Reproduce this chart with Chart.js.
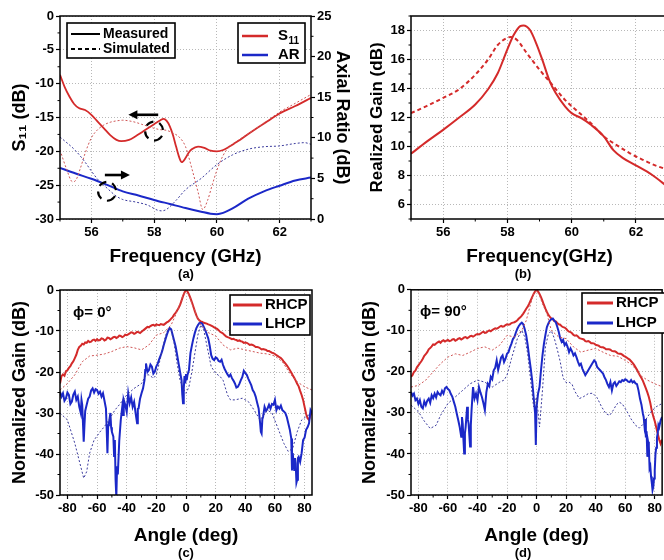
<!DOCTYPE html>
<html>
<head>
<meta charset="utf-8">
<script src="https://cdn.jsdelivr.net/npm/chart.js@4.4.1/dist/chart.umd.min.js"></script>
<style>
  body { margin: 0; width: 664px; height: 560px; overflow: hidden; background: #fff; position: relative; }
  canvas { position: absolute; }
  .etiqueta { position: absolute; font: bold 13px 'Liberation Sans', Arial, sans-serif; transform: translate(-50%, -50%); color: #000; }
</style>
</head>
<body>
<canvas id="grafico-a" width="355" height="280" style="left:0;top:0"></canvas>
<canvas id="grafico-b" width="340" height="280" style="left:330px;top:0"></canvas>
<canvas id="grafico-c" width="340" height="280" style="left:0;top:280px"></canvas>
<canvas id="grafico-d" width="334" height="280" style="left:330px;top:280px"></canvas>
<div class="etiqueta" style="left:186px;top:273px">(a)</div>
<div class="etiqueta" style="left:523px;top:273px">(b)</div>
<div class="etiqueta" style="left:186px;top:552px">(c)</div>
<div class="etiqueta" style="left:523px;top:552px">(d)</div>
<script>
/**
 * Figura de 4 paneles: S11 / AR, ganancia realizada y diagramas de radiación
 */

// Panel (a): S11 (eje izquierdo) y relación axial (eje derecho)
const aFrecTicks = [56, 58, 60, 62];
const aS11Ticks = [0, -5, -10, -15, -20, -25, -30];
const aArTicks = [0, 5, 10, 15, 20, 25];
const aS11Medido = [[55,-8.7],[55.15,-10.5],[55.3,-11.9],[55.45,-13.0],[55.6,-13.6],[55.8,-13.9],[56,-14.6],[56.2,-15.6],[56.4,-16.6],[56.6,-17.6],[56.8,-18.3],[56.95,-18.5],[57.2,-18.3],[57.4,-17.8],[57.6,-17.2],[57.8,-16.6],[58,-16.0],[58.2,-15.4],[58.3,-15.2],[58.4,-15.5],[58.5,-16.3],[58.6,-17.6],[58.7,-19.3],[58.8,-20.9],[58.88,-21.6],[59,-21.0],[59.1,-20.2],[59.2,-19.7],[59.4,-19.3],[59.6,-19.5],[59.8,-19.9],[60,-20.0],[60.2,-19.8],[60.4,-19.3],[60.6,-18.7],[60.8,-18.1],[61.2,-16.8],[61.6,-15.6],[62,-14.4],[62.5,-13.3],[63,-12.1]];
const aS11Simulado = [[55,-19.8],[55.2,-22.5],[55.4,-24.5],[55.5,-24.3],[55.65,-22.5],[55.8,-20.3],[56,-18.0],[56.2,-16.8],[56.4,-16.1],[56.6,-15.7],[56.8,-15.5],[57,-15.4],[57.2,-15.5],[57.4,-15.7],[57.6,-16.0],[57.8,-16.3],[58,-16.6],[58.2,-16.8],[58.4,-16.9],[58.6,-17.3],[58.8,-17.9],[59,-19.3],[59.2,-22.5],[59.4,-26.0],[59.55,-28.6],[59.7,-27.3],[59.85,-25.0],[60,-22.8],[60.2,-20.6],[60.4,-19.3],[60.6,-18.6],[60.8,-18.0],[61.2,-16.8],[61.6,-15.5],[62,-14.2],[62.5,-12.9],[63,-11.6]];
const aArMedido = [[55,6.3],[55.5,5.6],[56,4.95],[56.5,4.2],[57,3.4],[57.5,2.9],[58,2.35],[58.5,1.85],[59,1.35],[59.5,0.9],[59.8,0.65],[60,0.6],[60.2,0.75],[60.5,1.3],[61,2.5],[61.5,3.4],[62,4.1],[62.5,4.75],[63,5.1]];
const aArSimulado = [[55,10.1],[55.5,8.4],[55.8,7.0],[56,5.9],[56.2,4.9],[56.5,3.8],[56.8,2.8],[57,2.4],[57.4,2.1],[57.8,1.7],[58.1,1.1],[58.25,1.0],[58.4,1.2],[58.7,2.3],[59,3.6],[59.5,5.0],[60,6.7],[60.5,7.9],[61,8.6],[61.5,8.9],[62,9.0],[62.5,9.3],[62.8,9.4],[63,9.2]];
// Flechas y elipses que señalan el eje de cada curva (coordenadas de datos)
const aFlechas = [{ desde: [58.13, -14.6], hasta: [57.18, -14.6] }, { desde: [56.43, -23.5], hasta: [57.23, -23.5] }];
const aElipses = [[58.0, -17.0], [56.5, -25.9]];

// Panel (b): ganancia realizada
const bFrecTicks = [56, 58, 60, 62];
const bGananciaTicks = [6, 8, 10, 12, 14, 16, 18];
const bGananciaMedida = [[55,9.5],[55.5,10.35],[56,11.15],[56.5,12.0],[57,12.9],[57.4,13.95],[57.7,15.05],[58,16.7],[58.2,17.7],[58.4,18.3],[58.5,18.35],[58.7,18.05],[58.9,17.1],[59.1,15.9],[59.3,14.6],[59.5,13.7],[59.8,12.75],[60,12.3],[60.3,11.95],[60.6,11.5],[61,10.7],[61.3,9.75],[61.6,9.2],[62,8.7],[62.5,8.05],[63,7.2]];
const bGananciaSimulada = [[55,12.3],[55.5,12.8],[56,13.35],[56.5,13.95],[57,14.95],[57.4,16.0],[57.7,17.0],[58,17.5],[58.1,17.55],[58.3,17.35],[58.6,16.45],[59,15.3],[59.4,14.25],[59.8,13.2],[60.2,12.4],[60.6,11.6],[61,10.7],[61.4,10.1],[61.8,9.55],[62.2,9.1],[62.6,8.7],[63,8.4]];

// Paneles (c) y (d): ganancia normalizada frente al ángulo
const anguloTicks = [-80, -60, -40, -20, 0, 20, 40, 60, 80];
const normTicks = [0, -10, -20, -30, -40, -50];
const cRhcpMedido = [[-85,-22.8],[-84,-21.0],[-83,-20.6],[-82,-20.9],[-81,-19.8],[-80,-19.6],[-79,-19.0],[-78,-18.6],[-77,-17.9],[-76,-17.4],[-75,-16.6],[-74,-15.8],[-73,-14.6],[-72,-13.9],[-71,-13.6],[-70,-13.1],[-69,-13.3],[-68,-12.8],[-67,-12.9],[-66,-12.4],[-65,-12.7],[-64,-12.6],[-63,-12.2],[-62,-12.1],[-61,-12.4],[-60,-12.0],[-59,-12.3],[-58,-12.2],[-57,-11.8],[-56,-11.9],[-55,-12.3],[-54,-12.1],[-53,-11.6],[-52,-11.7],[-51,-12.0],[-50,-11.8],[-49,-11.5],[-48,-11.4],[-47,-11.7],[-46,-11.5],[-45,-11.1],[-44,-11.2],[-43,-11.5],[-42,-11.3],[-41,-10.9],[-40,-11.0],[-39,-10.8],[-38,-10.6],[-37,-10.3],[-36,-10.4],[-35,-10.7],[-34,-10.5],[-33,-10.2],[-32,-10.3],[-31,-10.5],[-30,-10.2],[-29,-9.9],[-28,-9.6],[-27,-9.3],[-26,-9.0],[-25,-9.1],[-24,-8.8],[-23,-8.6],[-22,-8.5],[-21,-8.7],[-20,-8.4],[-19,-8.5],[-18,-8.6],[-17,-8.3],[-16,-8.4],[-15,-8.5],[-14,-8.2],[-13,-7.9],[-12,-7.7],[-11,-7.4],[-10,-7.0],[-9,-6.6],[-8,-6.0],[-7,-5.6],[-6,-5.0],[-5,-4.4],[-4,-3.6],[-3,-2.6],[-2,-1.5],[-1,-0.6],[0,0],[1,-0.4],[2,-1.1],[3,-2.0],[4,-3.0],[5,-4.1],[6,-5.2],[7,-6.2],[8,-7.0],[9,-7.4],[10,-7.7],[11,-7.8],[12,-8.0],[13,-8.1],[14,-8.2],[15,-8.4],[16,-8.5],[17,-8.7],[18,-8.9],[19,-9.1],[20,-9.3],[21,-9.5],[22,-9.8],[23,-10.2],[24,-10.4],[25,-10.6],[26,-11.0],[27,-11.3],[28,-11.5],[29,-11.6],[30,-11.8],[31,-12.0],[32,-11.9],[33,-12.1],[34,-12.2],[35,-12.4],[36,-12.3],[37,-12.5],[38,-12.6],[39,-12.9],[40,-12.8],[41,-12.9],[42,-13.1],[43,-13.4],[44,-13.3],[45,-13.4],[46,-13.6],[47,-13.9],[48,-13.9],[49,-14.0],[50,-14.2],[51,-14.5],[52,-14.4],[53,-14.5],[54,-14.6],[55,-14.9],[56,-14.9],[57,-15.1],[58,-15.3],[59,-15.4],[60,-15.6],[61,-15.9],[62,-16.1],[63,-16.4],[64,-16.6],[65,-17.0],[66,-17.5],[67,-17.9],[68,-18.4],[69,-18.9],[70,-19.5],[71,-20.1],[72,-20.8],[73,-21.4],[74,-22.1],[75,-22.9],[76,-23.5],[77,-24.6],[78,-25.6],[79,-26.8],[80,-28.5],[81,-30.2],[82,-31.3],[83,-31.7],[84,-30.5],[85,-29.7]];
const cRhcpSimulado = [[-85,-24.4],[-80,-22.8],[-75,-20.7],[-70,-17.5],[-65,-16.1],[-60,-15.9],[-55,-15.6],[-50,-15.0],[-45,-14.2],[-40,-13.8],[-35,-14.1],[-30,-14.6],[-25,-13.4],[-20,-11.0],[-15,-10.4],[-10,-8.5],[-7,-6.1],[-4,-3.3],[-2,-1.2],[0,-0.2],[2,-1.2],[4,-3.3],[7,-6.1],[10,-8.5],[15,-10.4],[20,-11.2],[25,-13.4],[30,-14.6],[35,-14.2],[40,-14.6],[45,-15.0],[50,-15.4],[55,-15.6],[60,-16.1],[65,-17.5],[70,-20.3],[75,-22.4],[80,-23.6],[85,-24.4]];
const cLhcpMedido = [[-85,-24.8],[-84,-26.0],[-83,-25.2],[-82,-27.0],[-81,-26.4],[-80,-25.0],[-79,-25.6],[-78,-27.8],[-77,-27.2],[-76,-25.5],[-75,-24.8],[-74,-26.8],[-73,-26.0],[-72,-28.5],[-71,-30.0],[-70.5,-26.8],[-70,-28.0],[-69,-37.0],[-68.5,-33.0],[-68,-29.5],[-67,-28.0],[-66,-26.5],[-65,-26.0],[-64,-24.5],[-63,-24.0],[-62,-25.0],[-61,-24.2],[-60,-24.4],[-59,-25.3],[-58,-24.8],[-57,-26.0],[-56,-25.2],[-55,-27.0],[-54,-28.9],[-53.5,-34],[-53,-39.8],[-52.5,-33],[-52,-32.5],[-51,-30.0],[-50.5,-33.5],[-50,-34.6],[-49,-35.8],[-48.5,-40.5],[-48,-36.6],[-47.5,-46.3],[-47,-50.5],[-46.5,-43.0],[-46,-45.0],[-45,-36.6],[-44,-31.7],[-43,-28.5],[-42.5,-30.5],[-42,-26.8],[-41,-28.0],[-40,-29.7],[-39,-25.2],[-38,-27.6],[-37,-26.2],[-36,-28.5],[-35,-27.3],[-34,-30.0],[-33,-32.5],[-32.5,-29.0],[-32,-28.9],[-31,-26.5],[-30,-25.2],[-29,-24.0],[-28,-22.0],[-27.5,-19.5],[-27,-17.9],[-26,-20.0],[-25,-19.5],[-24,-18.2],[-23,-18.7],[-22,-20.4],[-21,-19.9],[-20,-18.6],[-19,-17.9],[-18,-16.8],[-17,-15.9],[-16,-14.8],[-15,-13.4],[-14,-12.2],[-13,-11.0],[-12,-10.0],[-11,-9.3],[-10,-9.6],[-9,-11.0],[-8,-12.4],[-7,-13.8],[-6,-15.8],[-5,-17.9],[-4,-20.0],[-3,-22.0],[-2.5,-25.5],[-2,-27.6],[-1.5,-24.0],[-1,-21.0],[-0.5,-22.8],[0,-20.5],[0.5,-22.0],[1,-20.7],[2,-19.5],[3,-15.4],[4,-13.5],[5,-11.8],[6,-10.4],[7,-9.3],[8,-8.6],[9,-8.1],[10,-8.0],[11,-8.2],[12,-9.0],[13,-9.8],[14,-10.8],[15,-11.8],[16,-13.6],[17,-15.9],[18,-16.8],[19,-17.1],[20,-16.4],[21,-16.7],[22,-17.3],[23,-17.5],[24,-17.0],[25,-18.3],[26,-19.2],[27,-19.9],[28,-20.6],[29,-21.1],[30,-20.6],[31,-21.5],[32,-22.1],[33,-22.8],[34,-23.8],[35,-23.6],[36,-22.9],[37,-22.0],[38,-21.2],[39,-19.7],[40,-20.3],[41,-20.7],[42,-21.6],[43,-22.4],[44,-23.2],[45,-24.4],[46,-25.0],[47,-26.0],[48,-27.5],[49,-28.9],[50,-32.5],[50.5,-34.6],[51,-35.0],[51.5,-31.5],[52,-30.9],[53,-28.5],[54,-29.5],[55,-28.9],[56,-28.0],[57,-28.9],[58,-27.8],[59,-28.0],[60,-26.8],[61,-29.3],[62,-28.4],[63,-28.9],[64,-28.2],[65,-29.3],[66,-29.6],[67,-30.0],[68,-31.0],[69,-32.5],[70,-34.0],[71,-36.2],[71.5,-44.0],[72,-39.8],[73,-43.9],[73.5,-41.0],[74,-42.3],[74.5,-47.0],[75,-46.3],[75.5,-41.0],[76,-40.7],[77,-41.9],[78,-39.8],[79,-36.6],[80,-36.0],[81,-34.1],[82,-33.5],[83,-32.5],[84,-29.3],[85,-30.0]];
const cLhcpSimulado = [[-85,-30.0],[-80,-31.7],[-75,-37.4],[-71,-43.1],[-69,-45.9],[-67,-44.3],[-65,-39.8],[-62,-36.6],[-58,-34.6],[-55,-33.3],[-52,-31.7],[-48,-29.3],[-45,-28.0],[-40,-25.6],[-35,-24.0],[-30,-22.8],[-27,-20.7],[-25,-20.7],[-22,-21.5],[-20,-20.7],[-17,-16.3],[-14,-11.4],[-12,-9.3],[-10,-9.8],[-8,-13.0],[-6,-17.9],[-4,-22.0],[-2,-24.0],[0,-25.2],[2,-23.6],[4,-19.9],[6,-15.4],[8,-11.0],[10,-8.5],[12,-9.8],[14,-13.4],[17,-18.7],[20,-20.3],[23,-21.1],[25,-22.0],[28,-25.6],[30,-26.8],[33,-26.8],[38,-26.4],[42,-27.2],[46,-29.3],[50,-31.7],[55,-29.3],[58,-30.0],[62,-33.7],[66,-37.4],[69,-39.4],[72,-38.6],[75,-34.6],[78,-31.7],[81,-30.9],[85,-30.0]];

const dRhcpMedido = [[-85,-21.2],[-84,-20.8],[-83,-20.0],[-82,-19.7],[-81,-18.9],[-80,-18.4],[-79,-17.9],[-78,-17.4],[-77,-16.8],[-76,-16.1],[-75,-15.7],[-74,-15.2],[-73,-14.5],[-72,-14.2],[-71,-13.8],[-70,-13.3],[-69,-13.4],[-68,-13.1],[-67,-12.8],[-66,-12.6],[-65,-12.9],[-64,-12.5],[-63,-12.3],[-62,-12.6],[-61,-12.4],[-60,-12.2],[-59,-12.5],[-58,-12.4],[-57,-12.1],[-56,-12.0],[-55,-12.4],[-54,-12.2],[-53,-11.9],[-52,-11.8],[-51,-12.1],[-50,-11.9],[-49,-11.6],[-48,-11.5],[-47,-11.8],[-46,-11.6],[-45,-11.3],[-44,-11.2],[-43,-11.4],[-42,-11.2],[-41,-10.9],[-40,-10.8],[-39,-10.9],[-38,-10.7],[-37,-10.4],[-36,-10.2],[-35,-10.5],[-34,-10.4],[-33,-10.1],[-32,-9.9],[-31,-10.1],[-30,-9.8],[-29,-9.6],[-28,-9.4],[-27,-9.5],[-26,-9.3],[-25,-9.0],[-24,-8.8],[-23,-9.0],[-22,-8.9],[-21,-8.6],[-20,-8.4],[-19,-8.5],[-18,-8.4],[-17,-8.1],[-16,-8.0],[-15,-7.9],[-14,-7.7],[-13,-7.4],[-12,-7.0],[-11,-6.7],[-10,-6.3],[-9,-5.8],[-8,-5.2],[-7,-4.6],[-6,-4.1],[-5,-3.4],[-4,-2.6],[-3,-1.8],[-2,-1.0],[-1,-0.4],[0,0],[1,-0.4],[2,-1.0],[3,-1.8],[4,-2.7],[5,-3.7],[6,-4.6],[7,-5.4],[8,-6.1],[9,-6.6],[10,-7.0],[11,-7.2],[12,-7.6],[13,-7.7],[14,-8.1],[15,-8.4],[16,-8.5],[17,-8.9],[18,-9.1],[19,-9.2],[20,-9.5],[21,-9.9],[22,-10.2],[23,-10.3],[24,-10.6],[25,-11.0],[26,-11.2],[27,-11.1],[28,-11.4],[29,-11.8],[30,-11.9],[31,-12.0],[32,-12.1],[33,-12.5],[34,-12.6],[35,-12.5],[36,-12.7],[37,-13.0],[38,-13.0],[39,-13.1],[40,-13.4],[41,-13.5],[42,-13.6],[43,-13.9],[44,-14.0],[45,-14.0],[46,-14.2],[47,-14.5],[48,-14.5],[49,-14.5],[50,-14.6],[51,-14.9],[52,-15.0],[53,-15.0],[54,-15.2],[55,-15.5],[56,-15.6],[57,-15.6],[58,-15.8],[59,-16.1],[60,-16.3],[61,-16.5],[62,-16.8],[63,-17.0],[64,-17.4],[65,-17.8],[66,-18.3],[67,-18.9],[68,-19.5],[69,-20.2],[70,-20.9],[71,-21.5],[72,-22.2],[73,-23.1],[74,-24.0],[75,-25.0],[76,-26.1],[77,-27.6],[78,-29.5],[79,-30.8],[80,-32.0],[81,-33.5],[82,-35.0],[83,-36.5],[84,-37.5],[85,-36.5]];
const dRhcpSimulado = [[-85,-23.7],[-80,-23.3],[-75,-22.0],[-70,-20.0],[-65,-18.0],[-60,-16.4],[-55,-15.6],[-50,-16.0],[-45,-15.2],[-40,-14.3],[-35,-13.9],[-30,-14.7],[-25,-13.5],[-20,-11.1],[-15,-11.5],[-10,-9.9],[-7,-7.5],[-4,-3.4],[-2,-1.0],[0,-0.2],[2,-1.4],[4,-3.4],[7,-5.8],[10,-9.9],[15,-11.5],[20,-11.9],[25,-13.9],[30,-15.2],[35,-14.7],[40,-14.3],[45,-15.2],[50,-16.0],[55,-16.2],[60,-17.2],[65,-18.4],[70,-20.8],[75,-22.0],[80,-22.9],[85,-23.6]];
const dLhcpMedido = [[-85,-24.9],[-84,-25.8],[-83,-25.3],[-82,-26.9],[-81,-26.5],[-80,-27.8],[-79,-26.9],[-78,-28.5],[-77,-28.9],[-76,-27.2],[-75,-28.1],[-74,-27.0],[-73,-26.5],[-72,-27.5],[-71,-25.7],[-70,-26.4],[-69,-25.3],[-68,-26.2],[-67,-24.9],[-66,-25.4],[-65,-25.7],[-64,-24.6],[-63,-25.3],[-62,-24.0],[-61,-23.7],[-60,-24.2],[-59,-24.5],[-58,-25.4],[-57,-26.1],[-56,-27.3],[-55,-28.5],[-54,-30.2],[-53,-31.8],[-52,-33.5],[-51,-35.8],[-50.5,-31.0],[-50,-32.6],[-49.5,-36.5],[-49,-39.9],[-48.5,-35.0],[-48,-33.4],[-47,-28.5],[-46.5,-31.5],[-46,-32.6],[-45.5,-35.5],[-45,-38.2],[-44.5,-33.0],[-44,-29.3],[-43,-23.7],[-42,-26.5],[-41,-25.3],[-40,-26.9],[-39,-23.7],[-38,-25.0],[-37,-26.1],[-36,-27.6],[-35,-29.3],[-34,-25.0],[-33,-22.9],[-32,-23.5],[-31,-21.2],[-30,-21.8],[-29,-19.6],[-28,-19.0],[-27,-17.2],[-26,-19.5],[-25,-18.0],[-24,-16.5],[-23,-16.0],[-22,-17.6],[-21,-16.8],[-20,-15.6],[-19,-15.2],[-18,-14.0],[-17,-13.1],[-16,-12.0],[-15,-11.5],[-14,-10.4],[-13,-9.5],[-12,-8.8],[-11,-8.3],[-10,-8.0],[-9,-8.4],[-8,-9.6],[-7,-11.1],[-6,-13.5],[-5,-16.4],[-4,-19.0],[-3,-22.0],[-2,-26.1],[-1.5,-28.0],[-1,-30.1],[-0.5,-37.8],[0,-28.5],[0.5,-27.0],[1,-25.3],[2,-23.7],[3,-19.6],[4,-16.0],[5,-13.1],[6,-11.0],[7,-9.1],[8,-8.2],[9,-7.5],[10,-7.2],[11,-7.0],[12,-7.5],[13,-7.9],[14,-9.0],[15,-10.2],[16,-11.8],[17,-12.7],[18,-12.2],[19,-13.5],[20,-13.0],[21,-13.9],[22,-15.2],[23,-14.3],[24,-15.0],[25,-16.0],[26,-15.5],[27,-16.4],[28,-17.5],[29,-18.4],[30,-18.0],[31,-19.2],[32,-20.0],[33,-20.8],[34,-20.2],[35,-19.6],[36,-19.0],[37,-18.4],[38,-17.8],[39,-17.2],[40,-17.6],[41,-18.8],[42,-19.2],[43,-19.6],[44,-20.0],[45,-20.4],[46,-21.3],[47,-22.0],[48,-23.0],[49,-23.7],[50,-22.5],[51,-24.5],[52,-22.9],[53,-22.5],[54,-23.4],[55,-22.9],[56,-22.3],[57,-22.5],[58,-22.0],[59,-22.2],[60,-21.8],[61,-22.0],[62,-22.4],[63,-22.5],[64,-22.0],[65,-22.6],[66,-22.3],[67,-22.8],[68,-23.0],[69,-24.5],[70,-26.5],[71,-28.0],[72,-30.2],[72.5,-31.0],[73,-33.0],[73.5,-31.5],[74,-36.0],[74.5,-34.5],[75,-40.7],[75.5,-37.0],[76,-38.0],[76.5,-43.5],[77,-43.0],[77.5,-45.5],[78,-47.0],[78.5,-48.8],[79,-48.0],[79.5,-46.0],[80,-44.0],[80.5,-40.0],[81,-38.5],[81.5,-36.0],[82,-35.0],[82.5,-33.0],[83,-33.5],[84,-31.8],[85,-31.0]];
const dLhcpSimulado = [[-85,-28.1],[-80,-29.7],[-76,-32.0],[-72,-33.8],[-68,-33.0],[-65,-30.6],[-60,-27.7],[-55,-26.1],[-50,-24.5],[-45,-22.9],[-40,-22.0],[-35,-22.5],[-30,-23.7],[-25,-22.5],[-22,-22.0],[-20,-20.8],[-17,-16.8],[-13,-11.9],[-10,-9.9],[-8,-11.5],[-6,-15.6],[-4,-22.0],[-2,-28.5],[0,-26.1],[2,-33.4],[4,-24.5],[6,-13.9],[8,-10.8],[10,-10.0],[12,-11.8],[14,-14.5],[16,-17.5],[18,-21.5],[20,-22.6],[22,-22.5],[24,-23.0],[26,-24.8],[29,-26.5],[32,-26.0],[35,-25.3],[38,-25.2],[41,-26.3],[44,-28.5],[47,-30.2],[49.5,-30.6],[52,-29.3],[54,-28.0],[56,-27.4],[58,-27.8],[61,-29.5],[64,-31.5],[67,-33.0],[69.5,-33.7],[72,-32.8],[75,-31.0],[78,-29.5],[81,-28.5],[85,-27.7]];

// Estilo común
const FUENTE = "'Liberation Sans', Arial, sans-serif";
const ROJO = '#d42a2a';
const ROJO_SIM = '#cf5656';
const AZUL = '#1b28c8';
const AZUL_SIM = '#3a3a9c';

function fuente(tam) {
  return { family: FUENTE, size: tam, weight: 'bold' };
}

/**
 * Convierte una lista de pares [x, y] en puntos para Chart.js
 */
function puntos(pares) {
  return pares.map(([x, y]) => ({ x, y }));
}

function serie(pares, color, ancho, discontinua, suave, eje) {
  return {
    data: puntos(pares),
    borderColor: color,
    borderWidth: ancho,
    borderDash: discontinua || [],
    pointRadius: 0,
    fill: false,
    tension: 0,
    cubicInterpolationMode: suave ? 'monotone' : 'default',
    yAxisID: eje || 'y'
  };
}

/**
 * Escala lineal con ticks fijos y tamaño de caja fijo
 */
function escala(opc) {
  return {
    type: 'linear',
    position: opc.posicion,
    min: opc.min,
    max: opc.max,
    afterBuildTicks: s => { s.ticks = opc.ticks.map(v => ({ value: v })); },
    afterFit: s => {
      if (opc.posicion === 'bottom') s.height = opc.tam; else s.width = opc.tam;
    },
    ticks: { color: '#000', font: fuente(13), padding: 2, autoSkip: false, maxRotation: 0, callback: v => String(v) },
    grid: {
      color: '#b8b8b8', lineWidth: 1, drawOnChartArea: opc.rejilla !== false,
      drawTicks: true, tickLength: 4, tickColor: '#000', tickWidth: 1.2
    },
    border: { display: false, dash: [1, 2] },
    title: {
      display: true, text: opc.titulo, color: '#000', font: fuente(opc.tamTitulo),
      padding: opc.posicion === 'bottom' ? { top: 0, bottom: opc.padTitulo } : { top: opc.padTitulo, bottom: 0 }
    }
  };
}

// Marco negro alrededor del área de datos y ticks menores
const marco = {
  id: 'marco',
  afterDatasetsDraw(chart) {
    const { ctx, chartArea: a } = chart;
    ctx.save();
    ctx.strokeStyle = '#000';
    ctx.lineWidth = 1;
    Object.values(chart.scales).forEach(s => {
      const vals = s.ticks.map(t => t.value).sort((p, q) => p - q);
      const paso = vals[1] - vals[0];
      ctx.beginPath();
      for (let v = vals[0] - paso / 2; v <= s.max; v += paso) {
        if (v < s.min) continue;
        const p = s.getPixelForValue(v);
        if (s.position === 'bottom') { ctx.moveTo(p, a.bottom); ctx.lineTo(p, a.bottom + 2.5); }
        else if (s.position === 'left') { ctx.moveTo(a.left, p); ctx.lineTo(a.left - 2.5, p); }
        else { ctx.moveTo(a.right, p); ctx.lineTo(a.right + 2.5, p); }
      }
      ctx.stroke();
    });
    ctx.lineWidth = 1.5;
    ctx.strokeRect(a.left, a.top, a.right - a.left, a.bottom - a.top);
    ctx.restore();
  }
};

/**
 * Leyenda dibujada a mano dentro del área de datos
 */
function leyenda(caja, filas, tamTexto) {
  return {
    id: 'leyenda',
    afterDraw(chart) {
      const ctx = chart.ctx;
      ctx.save();
      ctx.fillStyle = '#fff';
      ctx.fillRect(caja.x, caja.y, caja.w, caja.h);
      ctx.strokeStyle = '#000';
      ctx.lineWidth = 1.6;
      ctx.strokeRect(caja.x, caja.y, caja.w, caja.h);
      filas.forEach(f => {
        ctx.beginPath();
        ctx.setLineDash(f.dash || []);
        ctx.strokeStyle = f.color;
        ctx.lineWidth = f.ancho;
        ctx.moveTo(f.x1, f.y);
        ctx.lineTo(f.x2, f.y);
        ctx.stroke();
        ctx.setLineDash([]);
        ctx.fillStyle = '#000';
        ctx.textBaseline = 'middle';
        ctx.font = `bold ${tamTexto}px ${FUENTE}`;
        ctx.fillText(f.texto, f.tx, f.y);
        if (f.sub) {
          const w = ctx.measureText(f.texto).width;
          ctx.font = `bold ${Math.round(tamTexto * 0.65)}px ${FUENTE}`;
          ctx.fillText(f.sub, f.tx + w + 0.5, f.y + 5);
        }
      });
      ctx.restore();
    }
  };
}

function texto(cad, x, y, tam) {
  return {
    id: 'texto',
    afterDraw(chart) {
      const ctx = chart.ctx;
      ctx.save();
      ctx.fillStyle = '#000';
      ctx.font = `bold ${tam}px ${FUENTE}`;
      ctx.textBaseline = 'middle';
      ctx.fillText(cad, x, y);
      ctx.restore();
    }
  };
}

// Flechas y elipses del panel (a)
const anotaciones = {
  id: 'anotaciones',
  afterDraw(chart) {
    const { ctx } = chart;
    const sx = chart.scales.x, sy = chart.scales.y;
    ctx.save();
    ctx.strokeStyle = '#000';
    ctx.fillStyle = '#000';
    aFlechas.forEach(f => {
      const x1 = sx.getPixelForValue(f.desde[0]), y1 = sy.getPixelForValue(f.desde[1]);
      const x2 = sx.getPixelForValue(f.hasta[0]), y2 = sy.getPixelForValue(f.hasta[1]);
      const dir = Math.sign(x2 - x1);
      ctx.lineWidth = 2.6;
      ctx.beginPath();
      ctx.moveTo(x1, y1);
      ctx.lineTo(x2 - dir * 6, y2);
      ctx.stroke();
      ctx.beginPath();
      ctx.moveTo(x2, y2);
      ctx.lineTo(x2 - dir * 9, y2 - 4.5);
      ctx.lineTo(x2 - dir * 9, y2 + 4.5);
      ctx.closePath();
      ctx.fill();
    });
    ctx.lineWidth = 2.2;
    ctx.setLineDash([8, 6]);
    aElipses.forEach(([ex, ey]) => {
      ctx.beginPath();
      ctx.ellipse(sx.getPixelForValue(ex), sy.getPixelForValue(ey), 9, 9.5, 0, 0.7, 0.7 + Math.PI * 2);
      ctx.stroke();
    });
    ctx.restore();
  }
};

const opcionesBase = {
  responsive: false,
  animation: false,
  devicePixelRatio: 1,
  plugins: { legend: { display: false }, tooltip: { enabled: false } }
};

// Panel (a)
new Chart(document.getElementById('grafico-a'), {
  type: 'line',
  data: {
    datasets: [
      serie(aArSimulado, AZUL_SIM, 1, [2, 2], true, 'y2'),
      serie(aS11Simulado, ROJO_SIM, 1, [2, 2], true, 'y'),
      serie(aArMedido, AZUL, 2, null, true, 'y2'),
      serie(aS11Medido, ROJO, 1.8, null, true, 'y')
    ]
  },
  options: {
    ...opcionesBase,
    layout: { padding: { left: 0, top: 16, right: 0, bottom: 0 } },
    scales: {
      x: escala({ posicion: 'bottom', min: 55, max: 63, ticks: aFrecTicks, tam: 61, titulo: 'Frequency (GHz)', tamTitulo: 19, padTitulo: 11.6 }),
      y: escala({ posicion: 'left', min: -30, max: 0, ticks: aS11Ticks, tam: 60, titulo: 'S₁₁ (dB)', tamTitulo: 18, padTitulo: 9 }),
      y2: escala({ posicion: 'right', min: 0, max: 25, ticks: aArTicks, tam: 44, titulo: 'Axial Ratio (dB)', tamTitulo: 18, padTitulo: 2, rejilla: false })
    }
  },
  plugins: [
    marco,
    anotaciones,
    leyenda({ x: 67, y: 23, w: 108, h: 35 }, [
      { x1: 71, x2: 100, y: 34, color: '#000', ancho: 2, texto: 'Measured', tx: 103 },
      { x1: 71, x2: 100, y: 49, color: '#000', ancho: 2, dash: [4, 3], texto: 'Simulated', tx: 103 }
    ], 14),
    leyenda({ x: 238, y: 23, w: 67, h: 40 }, [
      { x1: 242, x2: 268, y: 36, color: ROJO, ancho: 2.5, texto: 'S', tx: 278, sub: '11' },
      { x1: 242, x2: 268, y: 55, color: AZUL, ancho: 2.5, texto: 'AR', tx: 278 }
    ], 15)
  ]
});

// Panel (b)
new Chart(document.getElementById('grafico-b'), {
  type: 'line',
  data: {
    datasets: [
      serie(bGananciaSimulada, ROJO, 2, [4, 3], true),
      serie(bGananciaMedida, ROJO, 2, null, true)
    ]
  },
  options: {
    ...opcionesBase,
    layout: { padding: { left: 0, top: 16, right: 2, bottom: 0 } },
    scales: {
      x: escala({ posicion: 'bottom', min: 55, max: 63, ticks: bFrecTicks, tam: 61, titulo: 'Frequency(GHz)', tamTitulo: 19, padTitulo: 11.6 }),
      y: escala({ posicion: 'left', min: 5, max: 19, ticks: bGananciaTicks, tam: 81, titulo: 'Realized Gain (dB)', tamTitulo: 17, padTitulo: 37 })
    }
  },
  plugins: [marco]
});

// Panel (c)
new Chart(document.getElementById('grafico-c'), {
  type: 'line',
  data: {
    datasets: [
      serie(cLhcpSimulado, AZUL_SIM, 1, [2, 2], false),
      serie(cRhcpSimulado, ROJO_SIM, 1, [2, 2], false),
      serie(cLhcpMedido, AZUL, 2, null, false),
      serie(cRhcpMedido, ROJO, 2, null, false)
    ]
  },
  options: {
    ...opcionesBase,
    layout: { padding: { left: 0, top: 10, right: 28, bottom: 0 } },
    scales: {
      x: escala({ posicion: 'bottom', min: -85, max: 85, ticks: anguloTicks, tam: 65, titulo: 'Angle (deg)', tamTitulo: 19, padTitulo: 13 }),
      y: escala({ posicion: 'left', min: -50, max: 0, ticks: normTicks, tam: 60, titulo: 'Normalized Gain (dB)', tamTitulo: 18, padTitulo: 9 })
    }
  },
  plugins: [
    marco,
    texto('ϕ= 0°', 73, 33, 15),
    leyenda({ x: 230, y: 15, w: 80, h: 40 }, [
      { x1: 233, x2: 262, y: 25, color: ROJO, ancho: 3, texto: 'RHCP', tx: 265 },
      { x1: 233, x2: 262, y: 44, color: AZUL, ancho: 3, texto: 'LHCP', tx: 265 }
    ], 15)
  ]
});

// Panel (d)
new Chart(document.getElementById('grafico-d'), {
  type: 'line',
  data: {
    datasets: [
      serie(dLhcpSimulado, AZUL_SIM, 1, [2, 2], false),
      serie(dRhcpSimulado, ROJO_SIM, 1, [2, 2], false),
      serie(dLhcpMedido, AZUL, 2, null, false),
      serie(dRhcpMedido, ROJO, 2, null, false)
    ]
  },
  options: {
    ...opcionesBase,
    layout: { padding: { left: 0, top: 9, right: 1, bottom: 0 } },
    scales: {
      x: escala({ posicion: 'bottom', min: -85, max: 85, ticks: anguloTicks, tam: 65, titulo: 'Angle (deg)', tamTitulo: 19, padTitulo: 13 }),
      y: escala({ posicion: 'left', min: -50, max: 0, ticks: normTicks, tam: 81, titulo: 'Normalized Gain (dB)', tamTitulo: 18, padTitulo: 29 })
    }
  },
  plugins: [
    marco,
    texto('ϕ= 90°', 90, 32, 15),
    leyenda({ x: 252, y: 13, w: 90, h: 40 }, [
      { x1: 257, x2: 283, y: 23, color: ROJO, ancho: 3, texto: 'RHCP', tx: 286 },
      { x1: 257, x2: 283, y: 43, color: AZUL, ancho: 3, texto: 'LHCP', tx: 286 }
    ], 15)
  ]
});
</script>
</body>
</html>
